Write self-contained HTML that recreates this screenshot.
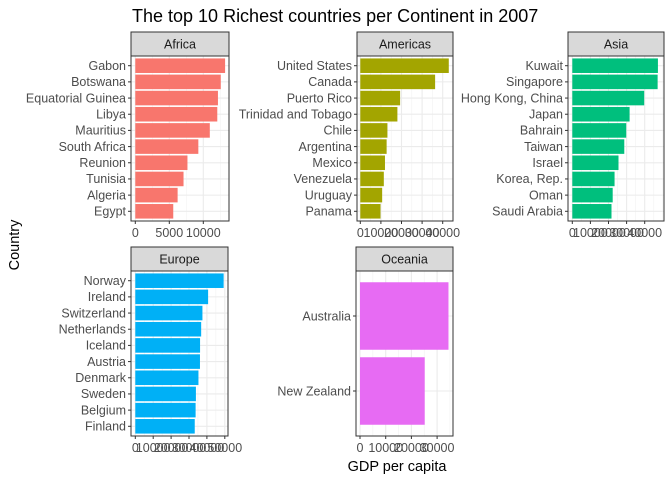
<!DOCTYPE html>
<html><head><meta charset="utf-8"><style>
body{margin:0;background:#fff;}
svg{display:block;font-family:"Liberation Sans",Arial,sans-serif;}
</style></head><body>
<svg id="chart" width="672" height="480" viewBox="0 0 672 480" xmlns="http://www.w3.org/2000/svg">
<rect width="672" height="480" fill="#fff"/>
<text x="132" y="22" font-size="18" fill="#000">The top 10 Richest countries per Continent in 2007</text>
<text transform="translate(19,245) rotate(-90)" text-anchor="middle" font-size="14.5" fill="#000">Country</text>
<text x="397" y="471" text-anchor="middle" font-size="14.5" fill="#000">GDP per capita</text>
<g id="panels"></g>
</svg>
<script>
const africaCountries=["Gabon","Botswana","Equatorial Guinea","Libya","Mauritius","South Africa","Reunion","Tunisia","Algeria","Egypt"];
const africaValues=[13206,12570,12154,12057,10957,9270,7670,7093,6223,5581];
const americasCountries=["United States","Canada","Puerto Rico","Trinidad and Tobago","Chile","Argentina","Mexico","Venezuela","Uruguay","Panama"];
const americasValues=[42952,36319,19329,18009,13172,12779,11978,11416,10611,9809];
const asiaCountries=["Kuwait","Singapore","Hong Kong, China","Japan","Bahrain","Taiwan","Israel","Korea, Rep.","Oman","Saudi Arabia"];
const asiaValues=[47307,47143,39725,31656,29796,28718,25523,23348,22316,21655];
const europeCountries=["Norway","Ireland","Switzerland","Netherlands","Iceland","Austria","Denmark","Sweden","Belgium","Finland"];
const europeValues=[49357,40676,37506,36798,36181,36126,35278,33860,33693,33207];
const oceaniaCountries=["Australia","New Zealand"];
const oceaniaValues=[34435,25185];
const africaTicks=[0,5000,10000];
const americasTicks=[0,10000,20000,30000,40000];
const asiaTicks=[0,10000,20000,30000,40000];
const europeTicks=[0,10000,20000,30000,40000,50000];
const oceaniaTicks=[0,10000,20000,30000];

const NS="http://www.w3.org/2000/svg";
const root=document.getElementById('panels');
function mk(tag,attrs,parent){const e=document.createElementNS(NS,tag);for(const k in attrs)e.setAttribute(k,attrs[k]);(parent||root).appendChild(e);return e;}

function panel(name,countries,values,ticks,color,L,R,x0,k,top){
  const g=mk('g',{});
  
  
  const sTop=top,sBot=top+24,pBot=sBot+165;
  const xs=v=>x0+v*k;
  const n=countries.length;
  const e=0.1;
  const unit=(pBot-sBot)/(n+2*e);
  const ys=i=>sBot+unit*(e+0.5+i);
  const strip=mk('rect',{x:L,y:sTop,width:R-L,height:24,fill:'#d9d9d9',stroke:'#333','stroke-width':1},g);
  
  
  const st=mk('text',{x:(L+R)/2,y:sTop+16.5,'text-anchor':'middle','font-size':12.5,fill:'#1a1a1a'},g);
  st.textContent=name.charAt(0).toUpperCase()+name.slice(1);
  
  
  for(let i=0;i<ticks.length;i++){
    const x=xs(ticks[i]);
    mk('line',{x1:x,x2:x,y1:sBot,y2:pBot,stroke:'#ebebeb','stroke-width':1.1},g);
    if(i<ticks.length-1){const xm=xs((ticks[i]+ticks[i+1])/2);mk('line',{x1:xm,x2:xm,y1:sBot,y2:pBot,stroke:'#f2f2f2','stroke-width':0.6},g);}
  }
  const step=ticks[1]-ticks[0];
  let t=ticks[ticks.length-1]+step/2;
  while(xs(t)<R){mk('line',{x1:xs(t),x2:xs(t),y1:sBot,y2:pBot,stroke:'#f2f2f2','stroke-width':0.6},g);t+=step/2;}
  for(let i=0;i<n;i++){mk('line',{x1:L,x2:R,y1:ys(i),y2:ys(i),stroke:'#ebebeb','stroke-width':1.1},g);}
  for(let i=0;i<n;i++){
    const b=mk('rect',{x:xs(0),y:ys(i)-unit*0.45,width:xs(values[i])-xs(0),height:unit*0.9,fill:color},g);
    
    
    mk('line',{x1:L-3,x2:L,y1:ys(i),y2:ys(i),stroke:'#333','stroke-width':1},g);
    const lt=mk('text',{x:L-5,y:ys(i)+4.3,'text-anchor':'end','font-size':12.5,fill:'#4d4d4d'},g);
    lt.textContent=countries[i];
    
    
  }
  const border=mk('rect',{x:L,y:sBot,width:R-L,height:pBot-sBot,fill:'none',stroke:'#333','stroke-width':1},g);
  
  
  for(let i=0;i<ticks.length;i++){
    const x=xs(ticks[i]);
    mk('line',{x1:x,x2:x,y1:pBot,y2:pBot+3,stroke:'#333','stroke-width':1},g);
    const tt=mk('text',{x:x,y:pBot+16,'text-anchor':'middle','font-size':12.5,fill:'#4d4d4d'},g);
    tt.textContent=String(ticks[i]);
    
    
  }
}
panel('africa',africaCountries,africaValues,africaTicks,'#F8766D',131,229,135.3,0.0068,32);
panel('americas',americasCountries,americasValues,americasTicks,'#A3A500',357,453,360.3,0.00206,32);
panel('asia',asiaCountries,asiaValues,asiaTicks,'#00BF7D',568,664,572.3,0.00181,32);
panel('europe',europeCountries,europeValues,europeTicks,'#00B0F6',131,228,135.3,0.00179,247);
panel('oceania',oceaniaCountries,oceaniaValues,oceaniaTicks,'#E76BF3',356,453,360,0.00257,247);
</script>
</body></html>
